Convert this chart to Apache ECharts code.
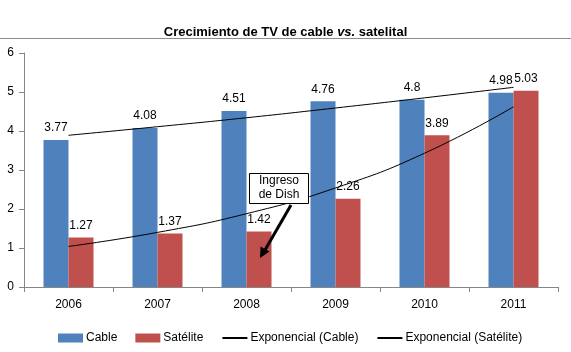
<!DOCTYPE html>
<html>
<head>
<meta charset="utf-8">
<script src="https://cdn.jsdelivr.net/npm/echarts@6/dist/echarts.min.js"></script>
<style>
  html, body { margin: 0; padding: 0; background: #fff; }
  #chart { width: 571px; height: 352px; }
</style>
</head>
<body>
<div id="chart"></div>
<script>
// datos
var years = ['2006', '2007', '2008', '2009', '2010', '2011']
var cable = [3.77, 4.08, 4.51, 4.76, 4.8, 4.98]
var satelite = [1.27, 1.37, 1.42, 2.26, 3.89, 5.03]
// lineas de tendencia exponencial
var trendCable = [3.89, 4.11, 4.34, 4.59, 4.85, 5.12]
var trendSatelite = [1.04, 1.4, 1.88, 2.54, 3.43, 4.62]
var yTicks = [0, 6, 1]

var txt = '#000'
var axisGray = '#868686'
var font = "'Liberation Sans', Arial, sans-serif"

var chart = echarts.init(document.getElementById('chart'))

var option = {
  animation: false,
  backgroundColor: '#fff',
  title: {
    left: 'center',
    top: 21,
    text: '{b|Crecimiento de TV de cable }{i|vs.}{b| satelital}',
    textStyle: {
      rich: {
        b: { fontFamily: font, fontWeight: 'bold', fontSize: 13, color: txt },
        i: { fontFamily: font, fontWeight: 'bold', fontStyle: 'italic', fontSize: 13, color: txt }
      }
    }
  },
  grid: { left: 24, right: 13, top: 53, bottom: 65, containLabel: false },
  legend: {
    left: 53,
    top: 327,
    itemGap: 18,
    itemWidth: 25,
    itemHeight: 9,
    textStyle: { fontFamily: font, fontSize: 12, color: txt, padding: [0, 0, 0, -2] },
    data: [
      { name: 'Cable', icon: 'rect' },
      { name: 'Satélite', icon: 'rect' },
      { name: 'Exponencial (Cable)', itemStyle: { opacity: 0 } },
      { name: 'Exponencial (Satélite)', itemStyle: { opacity: 0 } }
    ]
  },
  xAxis: {
    type: 'category',
    data: years,
    axisLine: { lineStyle: { color: axisGray } },
    axisTick: { show: true, length: 5, lineStyle: { color: axisGray } },
    axisLabel: { color: txt, fontFamily: font, fontSize: 12, margin: 12 }
  },
  yAxis: {
    type: 'value',
    min: yTicks[0],
    max: yTicks[1],
    interval: yTicks[2],
    axisLine: { show: true, lineStyle: { color: axisGray } },
    axisTick: { show: true, length: 5, lineStyle: { color: axisGray } },
    splitLine: { show: false },
    axisLabel: { color: txt, fontFamily: font, fontSize: 12, margin: 10 }
  },
  series: [
    {
      name: 'Cable',
      type: 'bar',
      data: cable,
      barWidth: 25,
      barGap: '0%',
      itemStyle: { color: '#4F81BD' },
      label: { show: true, position: 'top', distance: 6, color: txt, fontFamily: font, fontSize: 12 }
    },
    {
      name: 'Satélite',
      type: 'bar',
      data: satelite,
      barWidth: 25,
      itemStyle: { color: '#C0504D' },
      label: { show: true, position: 'top', distance: 6, color: txt, fontFamily: font, fontSize: 12 }
    },
    {
      name: 'Exponencial (Cable)',
      type: 'line',
      data: trendCable,
      smooth: true,
      symbol: 'none',
      z: 5,
      lineStyle: { color: '#000', width: 1 },
      itemStyle: { color: '#000' }
    },
    {
      name: 'Exponencial (Satélite)',
      type: 'line',
      data: trendSatelite,
      smooth: true,
      symbol: 'none',
      z: 5,
      lineStyle: { color: '#000', width: 1 },
      itemStyle: { color: '#000' }
    }
  ],
  graphic: [
    {
      type: 'line',
      shape: { x1: 0, y1: 38.5, x2: 571, y2: 38.5 },
      style: { stroke: '#8c8c8c', lineWidth: 1 }
    },
    // anotacion "Ingreso de Dish"
    {
      type: 'rect',
      z: 20,
      shape: { x: 249.5, y: 173.5, width: 59, height: 30 },
      style: { fill: '#fff', stroke: '#000', lineWidth: 1 }
    },
    {
      type: 'text',
      z: 21,
      x: 279,
      y: 188,
      style: {
        text: 'Ingreso\nde Dish',
        fill: txt,
        font: '12px ' + font,
        align: 'center',
        verticalAlign: 'middle',
        lineHeight: 14
      }
    },
    {
      type: 'line',
      z: 20,
      shape: { x1: 291, y1: 205, x2: 265, y2: 250 },
      style: { stroke: '#000', lineWidth: 3 }
    },
    {
      type: 'polygon',
      z: 20,
      shape: { points: [[260, 258], [269.5, 251.5], [260.5, 246.5]] },
      style: { fill: '#000' }
    }
  ]
}

chart.setOption(option)
</script>
</body>
</html>
